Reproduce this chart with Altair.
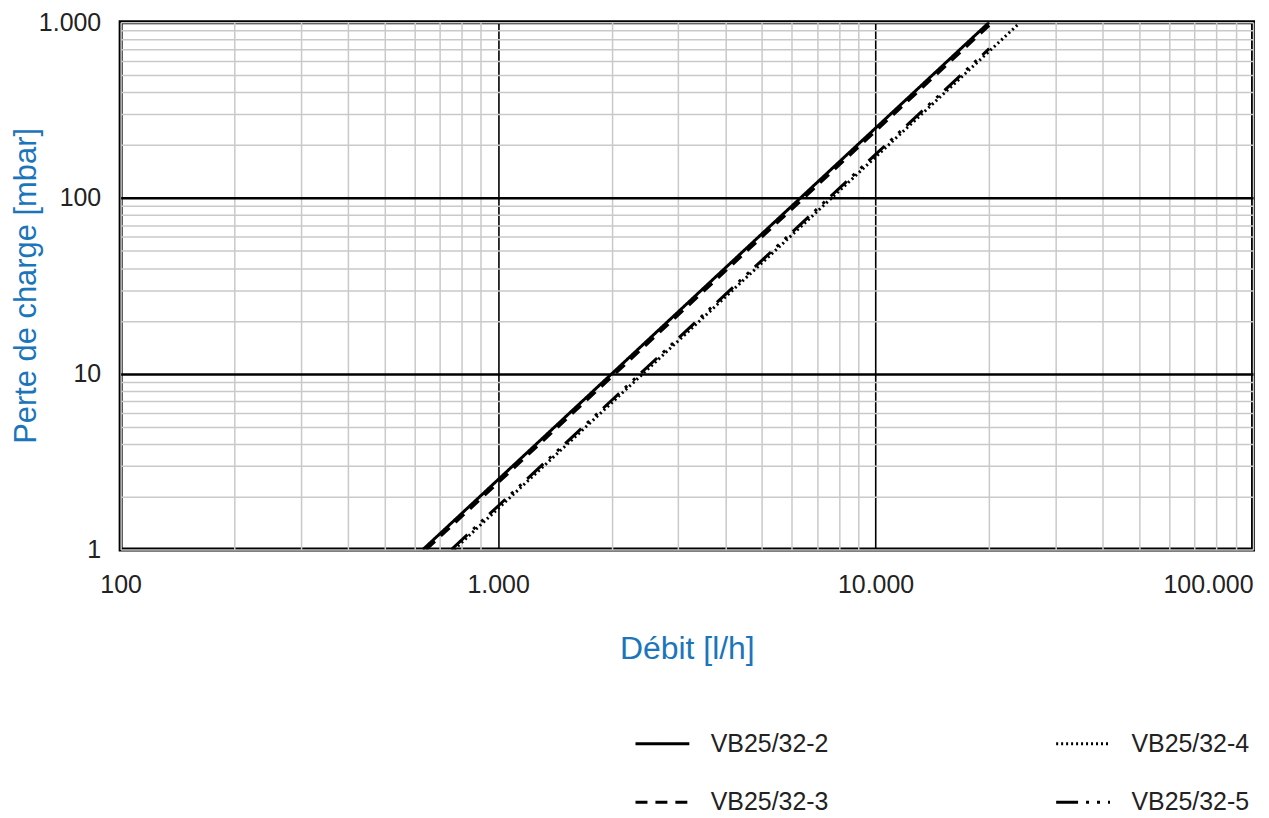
import altair as alt
import pandas as pd

# ---- data ----
SERIES = ["VB25/32-2", "VB25/32-3", "VB25/32-4", "VB25/32-5"]
Q_VB2 = [632, 1000, 2000, 5000, 10000, 20000]
P_VB2 = [1, 2.5, 10, 62.6, 250, 1000]
Q_VB3 = [645, 1000, 2000, 5000, 10000, 20000]
P_VB3 = [1, 2.4, 9.6, 60, 240, 960]
Q_VB4 = [765, 1000, 2000, 5000, 10000, 24000]
P_VB4 = [1, 1.71, 6.84, 42.7, 171, 984]
Q_VB5 = [752, 1000, 2000, 5000, 10000, 20000]
P_VB5 = [1, 1.77, 7.07, 44.2, 177, 707]

X_DECADES = [100, 1000, 10000, 100000]
X_LABELS = ["100", "1.000", "10.000", "100.000"]
Y_DECADES = [1, 10, 100, 1000]
Y_LABELS = ["1", "10", "100", "1.000"]

rows = []
for name, qs, ps in zip(SERIES, [Q_VB2, Q_VB3, Q_VB4, Q_VB5], [P_VB2, P_VB3, P_VB4, P_VB5]):
    for q, p in zip(qs, ps):
        rows.append({"series": name, "Q": q, "P": p})
df = pd.DataFrame(rows)

x_ticks = sorted(set([m * d for d in [100, 1000, 10000] for m in range(1, 10)] + [100000]))
y_ticks = sorted(set([m * d for d in [1, 10, 100] for m in range(1, 10)] + [1000]))


def label_expr(vals, labels):
    parts = " : ".join(f"datum.value == {v} ? '{l}'" for v, l in zip(vals, labels))
    return parts + " : ''"


def major_test(vals):
    return " || ".join(f"datum.value == {v}" for v in vals)


BLUE = "#1b75bb"
TXT = "#222222"
FONT = "Liberation Sans"

x_axis = alt.Axis(
    values=x_ticks,
    labelExpr=label_expr(X_DECADES, X_LABELS),
    labelOverlap=False,
    labelFontSize=25,
    labelColor=TXT,
    labelFont=FONT,
    labelPadding=23,
    labelAlign={"condition": {"test": "datum.value >= 100000", "value": "right"}, "value": "center"},
    ticks=False,
    domain=False,
    gridColor={"condition": {"test": major_test([1000, 10000]), "value": "black"}, "value": "#c9c9c9"},
    gridWidth={"condition": {"test": major_test([1000, 10000]), "value": 1.6}, "value": 1.5},
    title="Débit [l/h]",
    titleFontSize=32,
    titleFontWeight="normal",
    titleColor=BLUE,
    titleFont=FONT,
    titlePadding=36,
)

y_axis = alt.Axis(
    values=y_ticks,
    labelExpr=label_expr(Y_DECADES, Y_LABELS),
    labelOverlap=False,
    labelFontSize=25,
    labelColor=TXT,
    labelFont=FONT,
    labelPadding=20,
    ticks=False,
    domain=False,
    gridColor={"condition": {"test": major_test([10, 100]), "value": "black"}, "value": "#c9c9c9"},
    gridWidth={"condition": {"test": major_test([10, 100]), "value": 2.5}, "value": 1.5},
    title="Perte de charge [mbar]",
    titleFontSize=31,
    titleFontWeight="normal",
    titleColor=BLUE,
    titleFont=FONT,
    titleX=-78,
    titleY=264,
    titleAngle=270,
    titleAlign="center",
    titleBaseline="bottom",
)

dash_range = [[1, 0], [12, 8], [2, 3], [22, 8, 3, 8, 3, 8]]

chart = (
    alt.Chart(df)
    .mark_line(color="black", strokeWidth=3, clip=True)
    .encode(
        x=alt.X("Q:Q", scale=alt.Scale(type="log", domain=[100, 100000], nice=False), axis=x_axis),
        y=alt.Y("P:Q", scale=alt.Scale(type="log", domain=[1, 1000], nice=False), axis=y_axis),
        strokeDash=alt.StrokeDash(
            "series:N",
            scale=alt.Scale(domain=SERIES, range=dash_range),
            legend=alt.Legend(
                title=None,
                values=SERIES,
                orient="none",
                legendX=515,
                legendY=695,
                columns=2,
                columnPadding=221,
                rowPadding=17,
                symbolType="stroke",
                symbolSize=2916,
                symbolStrokeWidth=3,
                symbolStrokeColor="black",
                labelFontSize=25,
                labelColor=TXT,
                labelFont=FONT,
                labelOffset=20,
            ),
        ),
        detail="series:N",
    )
    .properties(
        width=1136,
        height=529,
        autosize="none",
        padding={"left": 113, "top": 13, "right": 8, "bottom": 266},
    )
    .configure_view(stroke="black", strokeWidth=4)
)

chart.save("out.html", embed_options={"renderer": "svg", "actions": False})
